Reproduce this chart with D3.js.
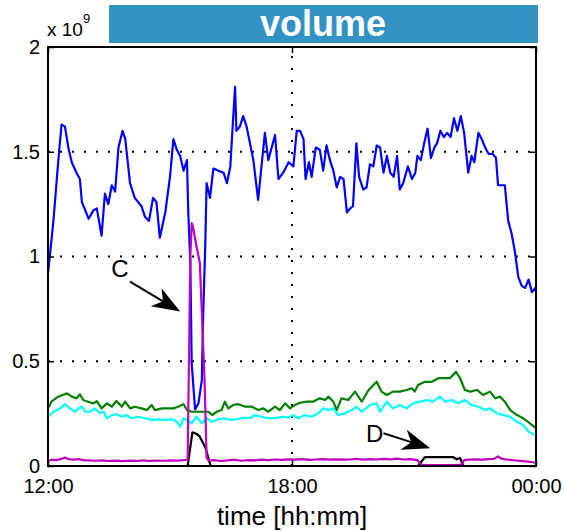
<!DOCTYPE html>
<html>
<head>
<meta charset="utf-8">
<script src="https://cdn.jsdelivr.net/npm/d3@7"></script>
<style>
  html, body { margin: 0; padding: 0; background: #fff; }
  svg { display: block; font-family: "Liberation Sans", Arial, sans-serif; }
</style>
</head>
<body>
<svg id="chart" width="564" height="531"></svg>
<script>
// Traffic volume over twelve hours, 12:00 to 00:00.
// Each series: [minutes after 12:00, volume in units of 1e9].
const blueSeries = [
  [0,0.92],[8,1.17],[15,1.45],[20,1.63],[25,1.62],[30,1.52],[35,1.45],[42,1.40],[47,1.37],[50,1.26],
  [60,1.18],[67,1.22],[72,1.23],[79,1.10],[84,1.30],[89,1.25],[94,1.34],[99,1.31],[104,1.52],[110,1.60],
  [114,1.56],[121,1.35],[128,1.28],[138,1.24],[143,1.19],[149,1.17],[155,1.28],[160,1.26],[165,1.09],[173,1.21],
  [180,1.38],[185,1.56],[190,1.51],[195,1.48],[200,1.41],[205,1.46],[207,1.21],[210,0.97],[212,0.49],[217,0.27],
  [222,0.30],[227,0.41],[229,0.73],[232,1.05],[234,1.35],[239,1.28],[244,1.42],[251,1.41],[259,1.40],[264,1.35],
  [269,1.43],[273,1.65],[276,1.81],[278,1.60],[283,1.62],[288,1.67],[293,1.62],[298,1.54],[303,1.46],[310,1.27],
  [315,1.43],[320,1.59],[325,1.46],[330,1.52],[335,1.58],[340,1.37],[347,1.40],[355,1.45],[362,1.43],[367,1.60],
  [372,1.60],[377,1.56],[380,1.37],[385,1.45],[389,1.38],[395,1.52],[401,1.51],[406,1.41],[411,1.53],[416,1.46],
  [421,1.41],[426,1.33],[431,1.38],[436,1.37],[441,1.21],[446,1.23],[450,1.24],[455,1.54],[459,1.38],[465,1.32],
  [470,1.33],[475,1.44],[480,1.43],[485,1.53],[490,1.52],[495,1.40],[500,1.48],[505,1.40],[510,1.38],[515,1.48],
  [519,1.32],[524,1.35],[531,1.43],[537,1.37],[542,1.40],[545,1.48],[550,1.46],[555,1.54],[560,1.61],[565,1.47],
  [570,1.52],[574,1.54],[579,1.60],[584,1.57],[589,1.59],[594,1.57],[599,1.66],[604,1.60],[609,1.67],[614,1.59],
  [620,1.40],[625,1.48],[629,1.45],[635,1.59],[640,1.56],[645,1.52],[650,1.49],[656,1.49],[661,1.47],[664,1.34],
  [674,1.34],[679,1.17],[684,1.11],[689,1.02],[694,0.90],[699,0.86],[704,0.85],[709,0.89],[714,0.83],[719,0.85],
  [720,0.83]
];

const greenSeries = [
  [0,0.275],[5,0.307],[15,0.331],[28,0.347],[35,0.331],[42,0.323],[47,0.342],[52,0.315],[59,0.307],[67,0.299],
  [72,0.310],[79,0.275],[87,0.299],[94,0.283],[101,0.310],[109,0.283],[114,0.307],[121,0.275],[128,0.283],[138,0.275],
  [146,0.267],[153,0.291],[158,0.267],[168,0.275],[177,0.275],[185,0.275],[192,0.283],[200,0.295],[205,0.267],[212,0.259],
  [227,0.259],[237,0.259],[242,0.243],[249,0.259],[256,0.267],[261,0.307],[266,0.275],[273,0.291],[281,0.295],[291,0.283],
  [301,0.283],[310,0.267],[318,0.275],[325,0.259],[335,0.283],[342,0.267],[350,0.299],[357,0.275],[364,0.291],[372,0.302],
  [382,0.307],[391,0.307],[401,0.323],[409,0.315],[414,0.331],[421,0.307],[426,0.267],[433,0.323],[443,0.315],[453,0.355],
  [463,0.307],[473,0.363],[485,0.402],[492,0.355],[500,0.339],[509,0.355],[519,0.355],[529,0.363],[537,0.371],[541,0.355],
  [546,0.387],[556,0.402],[566,0.402],[576,0.419],[586,0.419],[593,0.419],[602,0.450],[608,0.419],[615,0.363],[623,0.355],
  [633,0.363],[642,0.339],[652,0.355],[660,0.323],[667,0.331],[674,0.307],[682,0.267],[692,0.243],[701,0.228],[711,0.204],
  [720,0.181]
];

const cyanSeries = [
  [0,0.235],[8,0.259],[18,0.275],[25,0.295],[32,0.275],[40,0.259],[45,0.275],[50,0.283],[55,0.259],[62,0.259],
  [69,0.275],[77,0.252],[82,0.259],[87,0.228],[94,0.243],[101,0.247],[109,0.235],[116,0.243],[123,0.228],[133,0.235],
  [143,0.228],[153,0.220],[163,0.223],[173,0.220],[183,0.223],[190,0.211],[195,0.188],[200,0.228],[205,0.220],[212,0.204],
  [219,0.235],[227,0.204],[234,0.228],[242,0.211],[249,0.220],[259,0.228],[269,0.220],[278,0.223],[288,0.231],[298,0.228],
  [305,0.243],[315,0.235],[325,0.228],[335,0.228],[345,0.235],[355,0.231],[362,0.243],[369,0.228],[379,0.243],[389,0.235],
  [399,0.252],[406,0.275],[414,0.267],[421,0.275],[428,0.243],[438,0.252],[448,0.267],[455,0.283],[463,0.259],[475,0.291],
  [485,0.299],[490,0.259],[500,0.307],[509,0.275],[519,0.291],[529,0.275],[539,0.299],[549,0.307],[559,0.315],[568,0.307],
  [578,0.331],[586,0.307],[596,0.315],[605,0.299],[615,0.315],[625,0.291],[635,0.283],[645,0.267],[652,0.275],[662,0.252],
  [672,0.243],[682,0.235],[692,0.211],[701,0.196],[709,0.164],[719,0.148],[720,0.148]
];

const magentaSeries = [
  [0,0.025],[6,0.030],[12,0.028],[20,0.034],[25,0.040],[30,0.033],[38,0.030],[45,0.033],[52,0.028],[60,0.027],
  [70,0.025],[80,0.027],[90,0.024],[100,0.026],[110,0.023],[120,0.026],[130,0.024],[140,0.027],[150,0.024],[160,0.026],
  [170,0.025],[180,0.027],[190,0.026],[200,0.028],[206,0.030],[208,0.50],[210,1.00],[212,1.16],[214,1.14],[219,1.05],
  [224,0.97],[227,0.73],[231,0.41],[234,0.040],[237,0.025],[245,0.028],[255,0.024],[265,0.027],[275,0.030],[285,0.025],
  [295,0.028],[305,0.027],[315,0.030],[325,0.028],[335,0.031],[345,0.029],[355,0.032],[365,0.030],[375,0.033],[385,0.029],
  [395,0.031],[405,0.033],[415,0.030],[425,0.032],[435,0.030],[445,0.031],[455,0.034],[465,0.030],[475,0.033],[485,0.031],
  [495,0.034],[505,0.032],[515,0.035],[525,0.031],[535,0.033],[545,0.028],[549,0.012],[553,0.004],[580,0.004],[605,0.004],
  [611,0.008],[614,0.028],[620,0.030],[630,0.032],[640,0.030],[650,0.033],[658,0.034],[664,0.046],[668,0.036],[675,0.032],
  [685,0.028],[695,0.025],[705,0.022],[715,0.018],[720,0.016]
];

const blackSeries = [
  [0,0],[206,0],[213,0.160],[216,0.158],[220,0.152],[224,0.140],[228,0.115],[232,0.090],[236,0.045],[240,0],
  [546,0],[556,0.042],[570,0.043],[585,0.042],[598,0.042],[603,0.032],[608,0.038],[613,0],[720,0]
];

const yTicks = [0, 0.5, 1, 1.5, 2];
const xTickMinutes = [0, 360, 720];
const yGrid = [0.5, 1, 1.5];
const xGridMinutes = [360];

// Annotations: label position and arrow tail/tip in data units.
const annotations = [
  { text: "C", label: [106, 0.945], tail: [121, 0.88], tip: [195, 0.737] },
  { text: "D", label: [482, 0.155], tail: [495, 0.156], tip: [564, 0.085] }
];

const startTime = new Date(2000, 0, 1, 12, 0, 0);
const toDate = m => new Date(startTime.getTime() + m * 60000);

const svg = d3.select("#chart");
const plot = { left: 48, right: 536, top: 47, bottom: 466 };

const x = d3.scaleTime()
  .domain([toDate(0), toDate(720)])
  .range([plot.left, plot.right]);
const y = d3.scaleLinear()
  .domain([0, 2])
  .range([plot.bottom, plot.top]);

// Title bar
svg.append("rect")
  .attr("x", 109).attr("y", 5).attr("width", 429).attr("height", 38)
  .attr("fill", "#3292c4");
svg.append("text")
  .attr("x", 323).attr("y", 36)
  .attr("text-anchor", "middle")
  .attr("fill", "#fff")
  .attr("font-weight", "bold")
  .attr("font-size", 36)
  .text("volume");

// Exponent label
const expo = svg.append("text").attr("x", 47).attr("y", 36).attr("font-size", 19).attr("fill", "#000");
expo.append("tspan").text("x 10");
expo.append("tspan").attr("dy", -13).attr("font-size", 13).text("9");

// Dotted grid
const grid = svg.append("g").attr("stroke", "#000").attr("stroke-width", 2).attr("stroke-dasharray", "2 10");
grid.selectAll("line.h").data(yGrid).join("line")
  .attr("class", "h")
  .attr("x1", plot.left).attr("x2", plot.right)
  .attr("y1", d => y(d)).attr("y2", d => y(d));
grid.selectAll("line.v").data(xGridMinutes).join("line")
  .attr("class", "v")
  .attr("x1", d => x(toDate(d))).attr("x2", d => x(toDate(d)))
  .attr("y1", plot.bottom).attr("y2", plot.top);

// Series lines
const line = d3.line()
  .x(d => x(toDate(d[0])))
  .y(d => y(d[1]));

const series = [
  { data: blueSeries, color: "#0000ff" },
  { data: greenSeries, color: "#008000" },
  { data: cyanSeries, color: "#00ffff" },
  { data: blackSeries, color: "#000000" },
  { data: magentaSeries, color: "#bf00bf" }
];
svg.append("g").selectAll("path").data(series).join("path")
  .attr("d", d => line(d.data))
  .attr("fill", "none")
  .attr("stroke", d => d.color)
  .attr("stroke-width", 2.2)
  .attr("stroke-linejoin", "round");

// Axes with inward ticks
const fmt = d3.timeFormat("%H:%M");
const xAxis = d3.axisBottom(x)
  .tickValues(xTickMinutes.map(toDate))
  .tickFormat(fmt)
  .tickSizeInner(-6).tickSizeOuter(0).tickPadding(13);
const gx = svg.append("g").attr("transform", `translate(0,${plot.bottom})`).call(xAxis);

const yAxis = d3.axisLeft(y)
  .tickValues(yTicks)
  .tickFormat(d => String(d))
  .tickSizeInner(-6).tickSizeOuter(0).tickPadding(8);
const gy = svg.append("g").attr("transform", `translate(${plot.left},0)`).call(yAxis);

const gyr = svg.append("g").attr("transform", `translate(${plot.right},0)`)
  .call(d3.axisRight(y).tickValues(yTicks).tickFormat("").tickSizeInner(-6).tickSizeOuter(0));
const gxt = svg.append("g").attr("transform", `translate(0,${plot.top})`)
  .call(d3.axisTop(x).tickValues(xTickMinutes.map(toDate)).tickFormat("").tickSizeInner(-6).tickSizeOuter(0));

[gx, gy, gyr, gxt].forEach(g => {
  g.select(".domain").remove();
  g.selectAll(".tick line").attr("stroke", "#000").attr("stroke-width", 1.5);
  g.selectAll(".tick text")
    .attr("font-family", "'Liberation Sans', Arial, sans-serif")
    .attr("font-size", 20)
    .attr("fill", "#000");
});

// Frame
svg.append("rect")
  .attr("x", plot.left).attr("y", plot.top)
  .attr("width", plot.right - plot.left).attr("height", plot.bottom - plot.top)
  .attr("fill", "none").attr("stroke", "#000").attr("stroke-width", 2);

// X label
svg.append("text")
  .attr("x", (plot.left + plot.right) / 2).attr("y", 525)
  .attr("text-anchor", "middle")
  .attr("font-size", 26)
  .attr("fill", "#000")
  .text("time [hh:mm]");

// Annotation arrows
const ann = svg.append("g");
annotations.forEach(a => {
  const lx = x(toDate(a.label[0])), ly = y(a.label[1]);
  const tx = x(toDate(a.tail[0])), ty = y(a.tail[1]);
  const px = x(toDate(a.tip[0])), py = y(a.tip[1]);
  const dx = px - tx, dy = py - ty, len = Math.hypot(dx, dy);
  const ux = dx / len, uy = dy / len, nx = -uy, ny = ux;
  const headLen = 28, halfW = 10.5, notch = 20;
  const bx = px - ux * headLen, by = py - uy * headLen;
  const cx = px - ux * notch, cy = py - uy * notch;
  ann.append("line")
    .attr("x1", tx).attr("y1", ty).attr("x2", cx).attr("y2", cy)
    .attr("stroke", "#000").attr("stroke-width", 2);
  ann.append("path")
    .attr("d", `M${px},${py}L${bx + nx * halfW},${by + ny * halfW}L${cx},${cy}L${bx - nx * halfW},${by - ny * halfW}Z`)
    .attr("fill", "#000");
  ann.append("text")
    .attr("x", lx).attr("y", ly)
    .attr("text-anchor", "middle")
    .attr("dominant-baseline", "central")
    .attr("font-size", 24)
    .attr("fill", "#000")
    .text(a.text);
});
</script>
</body>
</html>
